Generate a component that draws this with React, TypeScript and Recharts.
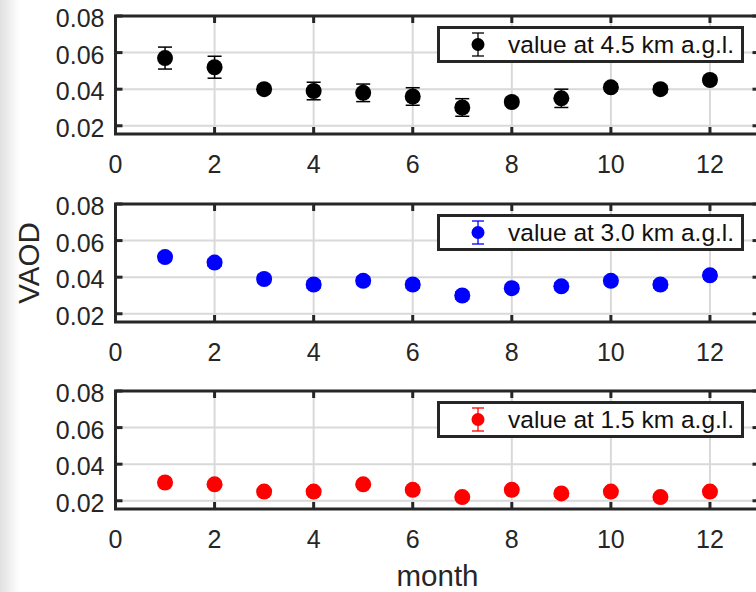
import React from "react";
import {
  ScatterChart,
  Scatter,
  XAxis,
  YAxis,
  CartesianGrid,
  ErrorBar,
  ReferenceArea,
} from "recharts";

const months = [1, 2, 3, 4, 5, 6, 7, 8, 9, 10, 11, 12];

const vaod45 = [0.057, 0.052, 0.04, 0.039, 0.038, 0.036, 0.03, 0.033, 0.035, 0.041, 0.04, 0.045];
const err45 = [0.006, 0.006, 0.002, 0.0048, 0.0048, 0.0048, 0.0048, 0.002, 0.005, 0.002, 0.002, 0.002];

const vaod30 = [0.051, 0.048, 0.039, 0.036, 0.038, 0.036, 0.03, 0.034, 0.035, 0.038, 0.036, 0.041];
const err30 = [0.002, 0.002, 0.002, 0.002, 0.002, 0.002, 0.002, 0.002, 0.002, 0.002, 0.002, 0.002];

const vaod15 = [0.03, 0.029, 0.025, 0.025, 0.029, 0.026, 0.022, 0.026, 0.024, 0.025, 0.022, 0.025];
const err15 = [0.0015, 0.0015, 0.0015, 0.0015, 0.0015, 0.0015, 0.0015, 0.0015, 0.0015, 0.0015, 0.0015, 0.0015];

const xTicks = [0, 2, 4, 6, 8, 10, 12];
const yTicks = [0.02, 0.04, 0.06, 0.08];
const X_DOMAIN: [number, number] = [0, 13];
const Y_DOMAIN: [number, number] = [0.0155, 0.08];

const FONT = '"Liberation Sans", Arial, sans-serif';
const INK = "#262626";

// plot box geometry (chart coordinates)
const CHART_W = 780;
const PLOT_LEFT = 115.5;
const MARGIN_RIGHT = 20.5;
const PLOT_RIGHT = CHART_W - MARGIN_RIGHT;
const PLOT_TOP = 16;
const PLOT_H = 118;
const PLOT_BOTTOM = PLOT_TOP + PLOT_H;
const TICK_LEN = 7;

function XTick(props: any) {
  const { x, payload } = props;
  return (
    <g>
      <line x1={x} x2={x} y1={PLOT_BOTTOM} y2={PLOT_BOTTOM - TICK_LEN} stroke={INK} strokeWidth={3} />
      <line x1={x} x2={x} y1={PLOT_TOP} y2={PLOT_TOP + TICK_LEN} stroke={INK} strokeWidth={3} />
      <text x={x} y={PLOT_BOTTOM + 39} textAnchor="middle" fontSize={25} fill={INK} fontFamily={FONT}>
        {payload.value}
      </text>
    </g>
  );
}

function YTick(props: any) {
  const { y, payload } = props;
  return (
    <g>
      <line x1={PLOT_LEFT} x2={PLOT_LEFT + TICK_LEN} y1={y} y2={y} stroke={INK} strokeWidth={3} />
      <line x1={PLOT_RIGHT} x2={PLOT_RIGHT - TICK_LEN} y1={y} y2={y} stroke={INK} strokeWidth={3} />
      <text x={PLOT_LEFT - 11} y={y + 11} textAnchor="end" fontSize={25} fill={INK} fontFamily={FONT}>
        {Number(payload.value).toFixed(2)}
      </text>
    </g>
  );
}

function LegendBox({ label, color }: { label: string; color: string }) {
  return (
    <div
      style={{
        position: "absolute",
        left: 437,
        top: 26,
        width: 307,
        height: 37,
        boxSizing: "border-box",
        border: `3px solid ${INK}`,
        background: "#fff",
      }}
    >
      <svg width={30} height={31} style={{ position: "absolute", left: 23, top: 0 }}>
        <line x1={15} x2={15} y1={4} y2={27} stroke={color} strokeWidth={1.3} />
        <line x1={9} x2={21} y1={4} y2={4} stroke={color} strokeWidth={1.3} />
        <line x1={9} x2={21} y1={27} y2={27} stroke={color} strokeWidth={1.3} />
        <circle cx={15} cy={15.5} r={6.5} fill={color} />
      </svg>
      <span
        style={{
          position: "absolute",
          left: 68,
          top: 0,
          lineHeight: "31px",
          fontSize: 24.5,
          fontFamily: FONT,
          color: "#111",
          whiteSpace: "nowrap",
        }}
      >
        {label}
      </span>
    </div>
  );
}

type PanelProps = {
  top: number;
  height: number;
  values: number[];
  errors: number[];
  color: string;
  label: string;
  yTitle?: string;
  xTitle?: string;
};

function Panel({ top, height, values, errors, color, label, yTitle, xTitle }: PanelProps) {
  const data = months.map((m, i) => ({ month: m, value: values[i], err: errors[i] }));
  return (
    <div style={{ position: "absolute", left: 0, top, width: CHART_W, height }}>
      <ScatterChart
        width={CHART_W}
        height={height}
        margin={{ top: PLOT_TOP, right: MARGIN_RIGHT, bottom: 0, left: 0 }}
      >
        <CartesianGrid stroke="#d9d9d9" strokeWidth={2} />
        <XAxis
          type="number"
          dataKey="month"
          domain={X_DOMAIN}
          ticks={xTicks}
          interval={0}
          height={height - PLOT_BOTTOM}
          tickLine={false}
          axisLine={false}
          tick={<XTick />}
          label={
            xTitle
              ? () => (
                  <text
                    x={(PLOT_LEFT + PLOT_RIGHT) / 2}
                    y={PLOT_BOTTOM + 77}
                    textAnchor="middle"
                    fontSize={29.5}
                    fill={INK}
                    fontFamily={FONT}
                  >
                    {xTitle}
                  </text>
                )
              : undefined
          }
        />
        <YAxis
          type="number"
          dataKey="value"
          domain={Y_DOMAIN}
          ticks={yTicks}
          allowDataOverflow
          width={PLOT_LEFT}
          tickLine={false}
          axisLine={false}
          tick={<YTick />}
          label={
            yTitle
              ? () => (
                  <text
                    x={38.5}
                    y={PLOT_TOP + PLOT_H / 2}
                    transform={`rotate(-90 38.5 ${PLOT_TOP + PLOT_H / 2})`}
                    textAnchor="middle"
                    fontSize={29.5}
                    fill={INK}
                    fontFamily={FONT}
                  >
                    {yTitle}
                  </text>
                )
              : undefined
          }
        />
        <ReferenceArea
          x1={X_DOMAIN[0]}
          x2={X_DOMAIN[1]}
          y1={Y_DOMAIN[0]}
          y2={Y_DOMAIN[1]}
          fill="none"
          stroke={INK}
          strokeWidth={3}
          ifOverflow="visible"
        />
        <Scatter
          data={data}
          fill={color}
          isAnimationActive={false}
          shape={(p: any) => <circle cx={p.cx} cy={p.cy} r={8} fill={color} />}
        >
          <ErrorBar dataKey="err" direction="y" width={7} stroke={color} strokeWidth={1.5} />
        </Scatter>
      </ScatterChart>
      <LegendBox label={label} color={color} />
    </div>
  );
}

export default function App() {
  return (
    <div
      style={{
        position: "absolute",
        left: 0,
        top: 0,
        width: 756,
        height: 592,
        overflow: "hidden",
        background: "linear-gradient(to right, #e0e0e0 0px, #ebebeb 7px, #f6f6f6 14px, #ffffff 20px)",
      }}
    >
      <Panel top={0} height={186} values={vaod45} errors={err45} color="#000000" label="value at 4.5 km a.g.l." />
      <Panel
        top={188}
        height={186}
        values={vaod30}
        errors={err30}
        color="#0000ff"
        label="value at 3.0 km a.g.l."
        yTitle="VAOD"
      />
      <Panel
        top={375}
        height={217}
        values={vaod15}
        errors={err15}
        color="#ff0000"
        label="value at 1.5 km a.g.l."
        xTitle="month"
      />
    </div>
  );
}
